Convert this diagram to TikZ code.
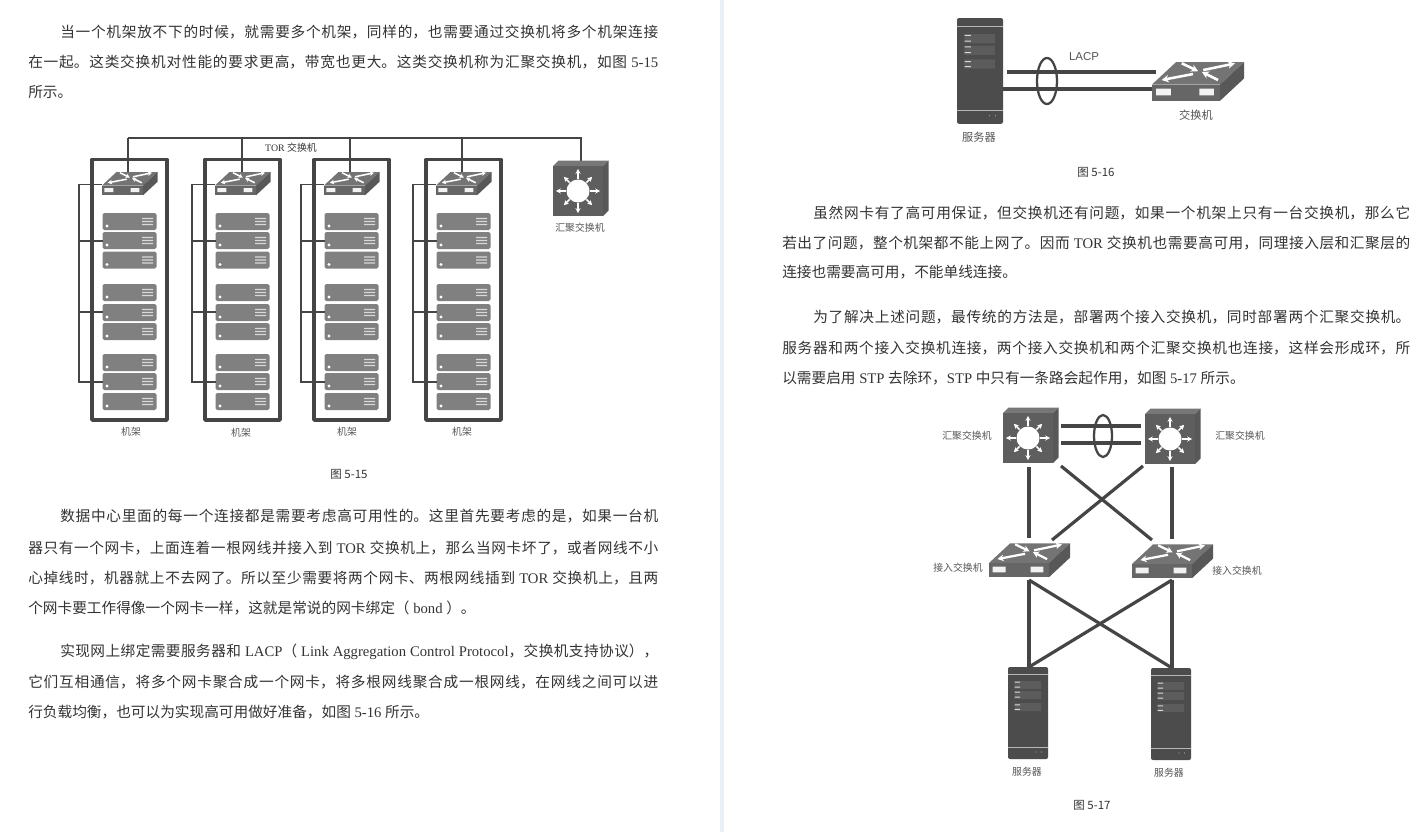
\documentclass[tikz,border=0pt]{standalone}
\usepackage{fontspec}
\usetikzlibrary{arrows.meta}
\setmainfont{Noto Sans CJK SC}
\newfontfamily\lat{Liberation Serif}
\newfontfamily\lats{Liberation Sans}
\XeTeXlinebreaklocale "zh"
\XeTeXlinebreakskip=0pt plus 2pt minus 0.3pt
\definecolor{ink}{HTML}{333333}
\definecolor{lab}{HTML}{555555}
\definecolor{band}{HTML}{E8EFF7}
\definecolor{devtop}{HTML}{747474}
\definecolor{devfront}{HTML}{666666}
\definecolor{devside}{HTML}{585858}
\definecolor{cubefront}{HTML}{5E5E5E}
\definecolor{cubetop}{HTML}{777777}
\definecolor{tower}{HTML}{4C4C4C}
\definecolor{blade}{HTML}{808080}
\definecolor{wire}{HTML}{454545}
\tikzset{
  bodytext/.style={anchor=west,inner sep=0pt,text=ink,font=\fontsize{11}{11}\selectfont},
  caption/.style={inner sep=0pt,text=ink,font=\fontsize{8.6}{10}\selectfont},
  lbl/.style={inner sep=0pt,text=lab,font=\fontsize{7.4}{9}\selectfont},
  thinwire/.style={draw=wire,line width=1.1pt},
  fatwire/.style={draw=wire,line width=2.4pt},
  rackframe/.style={draw=wire,line width=2.8pt,fill=white,line join=round},
  ring/.style={draw=wire,line width=1.7pt}
}
% justified line: name, x, y, width, text
\newcommand{\jl}[5]{\node[bodytext] (#1) at (#2,#3) {\parbox{\dimexpr #4pt*3/4\relax}{\parindent=0pt\parfillskip=0pt\tolerance=9999\hbadness=10000\hfuzz=3pt\emergencystretch=0pt #5}};}
\newcommand{\pl}[4]{\node[bodytext] (#1) at (#2,#3) {#4};}
\newcommand{\swicon}[3]{%
 \begin{scope}[shift={(#1,#2)},scale=#3]
  \fill[devtop] (0,0) -- (14.5,-13.5) -- (55.5,-13.5) -- (41,0) -- cycle;
  \fill[devside] (41,0) -- (55.5,-13.5) -- (55.5,-3.7) -- (41,9.8) -- cycle;
  \fill[devfront] (0,0) rectangle (41,9.8);
  \fill[white!95!black] (2.4,2.5) rectangle (11.3,6.5) (28.5,2.5) rectangle (37.3,6.5);
  \begin{scope}[white,line width=#3*1.15pt]
   \draw[-{Stealth[length=#3*3.2pt,width=#3*3.4pt]}] (17.9,-12.8) -- (27.8,-8);
   \draw[-{Stealth[length=#3*3.2pt,width=#3*3.4pt]}] (39.8,-2.7) -- (30,-7.6);
   \draw[-{Stealth[length=#3*3.2pt,width=#3*3.4pt]}] (24.7,-6.3) -- (5.8,-2.7);
   \draw[-{Stealth[length=#3*3.2pt,width=#3*3.4pt]}] (30.9,-8.7) -- (50,-12.7);
  \end{scope}
 \end{scope}}
\newcommand{\cubeicon}[2]{%
 \begin{scope}[shift={(#1,#2)}]
  \fill[cubetop] (0,0) -- (5.5,-5.5) -- (55.5,-5.5) -- (50,0) -- cycle;
  \fill[devside] (50,0) -- (55.5,-5.5) -- (55.5,44.5) -- (50,50) -- cycle;
  \fill[cubefront] (0,0) rectangle (50,50);
  \fill[white] (25,25) circle [radius=11.5];
  \foreach \a/\r in {0/22,90/22,180/22,270/22,45/20,135/20,225/20,315/20}{
   \draw[white,line width=1.15pt,-{Stealth[length=3.6pt,width=3.8pt]}] (25,25) ++(\a:12) -- ++(\a:\r-12);}
 \end{scope}}
\newcommand{\towericon}[3]{%
 \begin{scope}[shift={(#1,#2)},scale=#3]
  \fill[tower,rounded corners=1.5pt] (0,0) rectangle (40,92);
  \fill[white!60!tower] (0,7.2) rectangle (40,8);
  \fill[white!60!tower] (0,79.6) rectangle (40,80.4);
  \fill[white!9!tower] (6.5,14) rectangle (33,22) (6.5,24) rectangle (33,32) (6.5,36) rectangle (33,44);
  \fill[white!85!black] (6.7,14.6) rectangle (12,15.6) (6.7,19.6) rectangle (12,20.6)
     (6.7,24.6) rectangle (12,25.6) (6.7,29.6) rectangle (12,30.6)
     (6.7,37.4) rectangle (12,38.4) (6.7,41.8) rectangle (12,42.8);
  \fill[white!50!tower] (28,85) circle [radius=.6] (33.5,85) circle [radius=.6];
 \end{scope}}
\newcommand{\bladeicon}[2]{%
 \begin{scope}[shift={(#1,#2)}]
  \fill[blade,rounded corners=1.2pt] (0,0) rectangle (54,17);
  \fill[white] (4.5,13) circle [radius=1.7];
  \fill[white!85!black] (39.5,4.8) rectangle (50.5,6.1) (39.5,7.8) rectangle (50.5,9.1) (39.5,10.8) rectangle (50.5,12.1);
 \end{scope}}
\begin{document}
\begin{tikzpicture}[x=0.75pt,y=-0.75pt]
\useasboundingbox (0,0) rectangle (1427,832);
\fill[white] (0,0) rectangle (1427,832);
\fill[band] (720,0) rectangle (724,832);
% --- left page text
\jl{a1}{60}{32}{598}{当一个机架放不下的时候，就需要多个机架，同样的，也需要通过交换机将多个机架连接}
\jl{a2}{28}{62}{630}{在一起。这类交换机对性能的要求更高，带宽也更大。这类交换机称为汇聚交换机，如图{\lat\ 5-15}}
\pl{a3}{28}{92}{所示。}
\jl{b1}{60}{516}{598}{数据中心里面的每一个连接都是需要考虑高可用性的。这里首先要考虑的是，如果一台机}
\jl{b2}{28}{548}{630}{器只有一个网卡，上面连着一根网线并接入到{\lat\ TOR }交换机上，那么当网卡坏了，或者网线不小}
\jl{b3}{28}{578}{630}{心掉线时，机器就上不去网了。所以至少需要将两个网卡、两根网线插到{\lat\ TOR }交换机上，且两}
\pl{b4}{28}{608}{个网卡要工作得像一个网卡一样，这就是常说的网卡绑定（{\lat\ bond\ }）。}
\jl{c1}{60}{652}{598}{实现网上绑定需要服务器和{\lat\ LACP}（{\lat\ Link Aggregation Control Protocol}，交换机支持协议），}
\jl{c2}{28}{682}{630}{它们互相通信，将多个网卡聚合成一个网卡，将多根网线聚合成一根网线，在网线之间可以进}
\pl{c3}{28}{712}{行负载均衡，也可以为实现高可用做好准备，如图{\lat\ 5-16 }所示。}
% --- right page text
\jl{d1}{813}{213}{597}{虽然网卡有了高可用保证，但交换机还有问题，如果一个机架上只有一台交换机，那么它}
\jl{d2}{782}{243}{628}{若出了问题，整个机架都不能上网了。因而{\lat\ TOR }交换机也需要高可用，同理接入层和汇聚层的}
\pl{d3}{782}{272}{连接也需要高可用，不能单线连接。}
\jl{e1}{813}{317}{597}{为了解决上述问题，最传统的方法是，部署两个接入交换机，同时部署两个汇聚交换机。}
\jl{e2}{782}{348}{628}{服务器和两个接入交换机连接，两个接入交换机和两个汇聚交换机也连接，这样会形成环，所}
\pl{e3}{782}{378}{以需要启用{\lat\ STP }去除环，{\lat STP }中只有一条路会起作用，如图{\lat\ 5-17 }所示。}
% --- figure 5-15
\coordinate (busL) at (128,138);
\coordinate (busR) at (581,138);
\coordinate (aggTop) at (581,161);
\draw[thinwire] (busL) -- (busR) -- (aggTop);
\foreach \n/\x/\d in {1/92/128,2/205/242,3/314/350,4/426/462}{
  \draw[rackframe] (\x,159.5) rectangle (\x+75,420);
  \coordinate (top\n) at (\d,138);
  \coordinate (sw\n) at (\d,175);
  \draw[thinwire] (top\n) -- (sw\n);
  \swicon{\x+10}{185.5}{1}
  \foreach \yy in {213,232,251.5,284,304,323,354,373,393}{\bladeicon{\x+10.5}{\yy}}
  \coordinate (bus\n a) at (\x-13,184.5);
  \coordinate (bus\n b) at (\x-13,382);
  \coordinate (st\n a) at (\x+10,184.5);
  \coordinate (st\n b) at (\x+11,241);
  \coordinate (st\n c) at (\x+11,312);
  \coordinate (st\n d) at (\x+11,382);
  \draw[thinwire] (st\n a) -- (bus\n a) -- (bus\n b) -- (st\n d);
  \draw[thinwire] (\x-13,241) -- (st\n b);
  \draw[thinwire] (\x-13,312) -- (st\n c);
}
\cubeicon{553}{166}
\node[lbl,text=ink] (torlabel) at (291,148) {{\lat TOR }交换机};
\node[lbl] (r1) at (131,432) {机架};
\node[lbl] (r2) at (241,433) {机架};
\node[lbl] (r3) at (347,432) {机架};
\node[lbl] (r4) at (462,432) {机架};
\node[lbl] (aggA) at (580,228) {汇聚交换机};
\node[caption] (f15) at (349,474) {图 5-15};
% --- figure 5-16
\towericon{957}{18}{1.15}
\swicon{1152}{84.5}{1.66}
\coordinate (l1a) at (1007,72);
\coordinate (l1b) at (1156,72);
\coordinate (l2a) at (1003,89);
\coordinate (l2b) at (1152,89);
\draw[fatwire] (l1a) -- (l1b);
\draw[fatwire] (l2a) -- (l2b);
\draw[ring] (1047,81) ellipse [x radius=10,y radius=23];
\node[lbl,font=\lats\fontsize{8.6}{10}\selectfont] (lacp) at (1084,57) {LACP};
\node[lbl,font=\fontsize{8.4}{10}\selectfont] (sw16) at (1196,115) {交换机};
\node[lbl,font=\fontsize{8.4}{10}\selectfont] (sv16) at (979,137) {服务器};
\node[caption] (f16) at (1096,172) {图 5-16};
% --- figure 5-17
\cubeicon{1003}{413}
\cubeicon{1145}{414}
\swicon{989}{563}{1.46}
\swicon{1132}{564}{1.46}
\towericon{1008}{667}{1}
\towericon{1151}{668}{1}
\coordinate (h1a) at (1061,426); \coordinate (h1b) at (1141,426);
\coordinate (h2a) at (1061,443); \coordinate (h2b) at (1141,443);
\draw[fatwire] (h1a) -- (h1b);
\draw[fatwire] (h2a) -- (h2b);
\draw[ring] (1103,436) ellipse [x radius=9,y radius=21];
\coordinate (v1a) at (1029,467); \coordinate (v1b) at (1029,538);
\coordinate (v2a) at (1172,467); \coordinate (v2b) at (1172,539);
\coordinate (x1a) at (1061,466); \coordinate (x1b) at (1152,540);
\coordinate (x2a) at (1143,466); \coordinate (x2b) at (1052,540);
\coordinate (sl) at (1029,580); \coordinate (sr) at (1172,580);
\coordinate (tl) at (1029,667); \coordinate (tr) at (1172,668);
\draw[fatwire] (v1a) -- (v1b);
\draw[fatwire] (v2a) -- (v2b);
\draw[fatwire] (x1a) -- (x1b);
\draw[fatwire] (x2a) -- (x2b);
\draw[fatwire] (sl) -- (tl);
\draw[fatwire] (sr) -- (tr);
\draw[fatwire] (sl) -- (tr);
\draw[fatwire] (sr) -- (tl);
\node[lbl] (ag1) at (967,436) {汇聚交换机};
\node[lbl] (ag2) at (1240,436) {汇聚交换机};
\node[lbl] (ac1) at (958,568) {接入交换机};
\node[lbl] (ac2) at (1237,571) {接入交换机};
\node[lbl] (s1) at (1027,772) {服务器};
\node[lbl] (s2) at (1169,773) {服务器};
\node[caption] (f17) at (1092,805) {图 5-17};
\end{tikzpicture}
\end{document}
